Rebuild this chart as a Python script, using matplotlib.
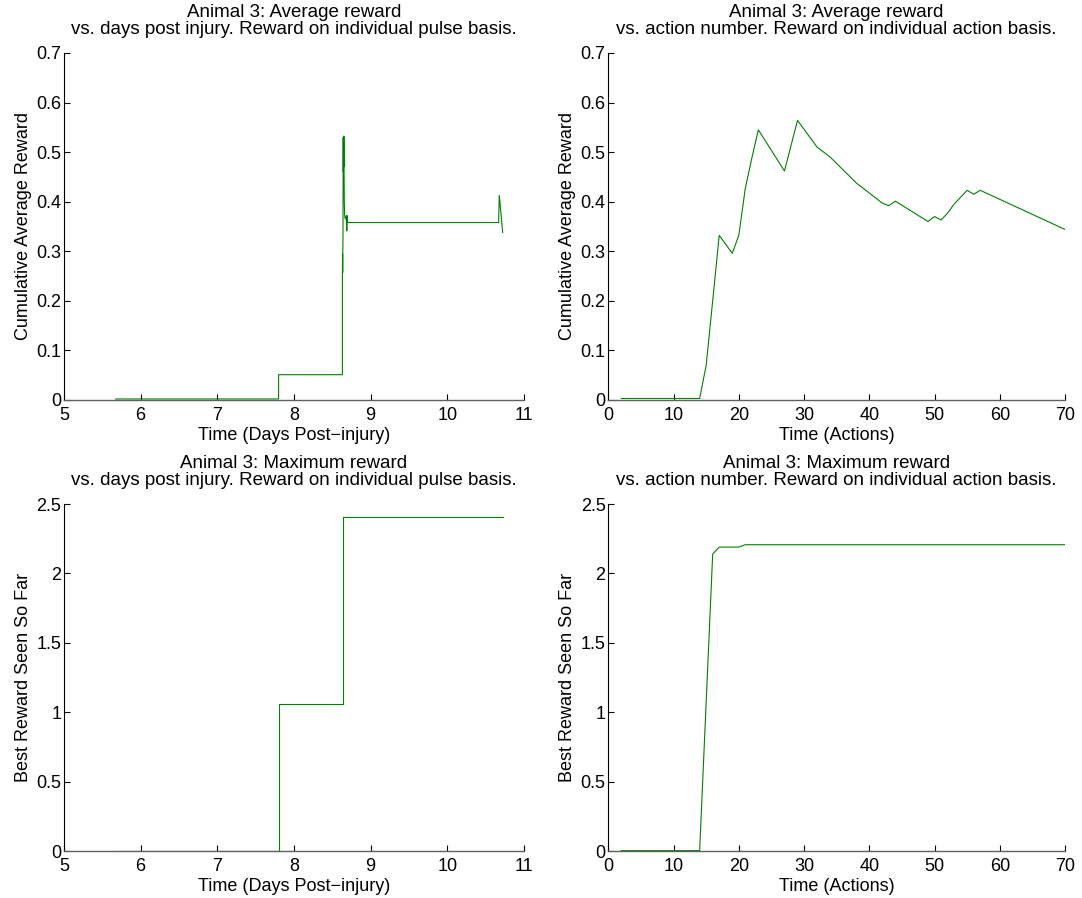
import matplotlib
matplotlib.use("Agg")
import matplotlib.pyplot as plt
import matplotlib.ticker as ticker

# ---------------------------------------------------------------------------
# Data
# ---------------------------------------------------------------------------
# Top-left: cumulative average reward vs days post injury
avg_days = [5.675, 7.80, 7.80, 8.632, 8.632, 8.634, 8.636, 8.638, 8.640,
            8.643, 8.645, 8.647, 8.649, 8.651, 8.654, 8.657, 8.662, 8.670,
            8.685, 8.690, 8.692, 8.700, 10.671, 10.672, 10.679, 10.684, 10.723]
avg_days_reward = [0.002, 0.002, 0.051, 0.051, 0.222, 0.294, 0.257, 0.294,
                   0.330, 0.530, 0.460, 0.532, 0.470, 0.532, 0.460, 0.400,
                   0.372, 0.365, 0.372, 0.341, 0.372, 0.358, 0.358, 0.370,
                   0.412, 0.405, 0.338]

# Top-right: cumulative average reward vs action number
avg_actions = [2, 14, 15, 16, 17, 19, 20, 21, 22, 23, 27, 29, 32, 34, 38,
               42, 43, 44, 49, 50, 51, 52, 53, 55, 56, 57, 70]
avg_actions_reward = [0.003, 0.003, 0.070, 0.200, 0.332, 0.296, 0.332, 0.427,
                      0.488, 0.545, 0.462, 0.564, 0.510, 0.490, 0.438, 0.397,
                      0.392, 0.401, 0.360, 0.370, 0.363, 0.377, 0.395, 0.423,
                      0.415, 0.423, 0.344]

# Bottom-left: best reward seen so far vs days post injury
best_days = [5.675, 7.80, 7.80, 8.634, 8.634, 8.637, 8.637, 10.723]
best_days_reward = [0.003, 0.003, 1.06, 1.06, 2.33, 2.33, 2.41, 2.41]

# Bottom-right: best reward seen so far vs action number
best_actions = [2, 14, 16, 17, 20, 21, 70]
best_actions_reward = [0.003, 0.003, 2.14, 2.19, 2.19, 2.207, 2.207]

TITLE_AVG = "Animal 3: Average reward"
TITLE_MAX = "Animal 3: Maximum reward"
SUB_DAYS = "vs. days post injury. Reward on individual pulse basis."
SUB_ACTIONS = "vs. action number. Reward on individual action basis."
XLABEL_DAYS = "Time (Days Post\u2212injury)"
XLABEL_ACTIONS = "Time (Actions)"
YLABEL_AVG = "Cumulative Average Reward"
YLABEL_MAX = "Best Reward Seen So Far"

# ---------------------------------------------------------------------------
# Style
# ---------------------------------------------------------------------------
plt.rcParams["font.family"] = ["Liberation Sans", "DejaVu Sans"]
_GREEN = "#008000"
_LINE_KW = dict(color=_GREEN, linewidth=0.8)
_FS = 13
_TITLE_FS = 13.5


def _style_ax(ax, xlabel, ylabel, title, xlim, xticks, ylim, yticks):
    ax.set_xlim(xlim)
    ax.set_ylim(ylim)
    ax.set_xticks(xticks)
    ax.set_yticks(yticks)
    ax.xaxis.set_major_formatter(ticker.FuncFormatter(lambda v, _: f"{v:g}"))
    ax.yaxis.set_major_formatter(ticker.FuncFormatter(lambda v, _: f"{v:g}"))
    ax.spines["top"].set_visible(False)
    ax.spines["right"].set_visible(False)
    ax.spines["left"].set_color("black")
    ax.spines["bottom"].set_color("#606060")
    ax.spines["left"].set_linewidth(0.8)
    ax.spines["bottom"].set_linewidth(1.0)
    ax.tick_params(direction="in", length=4, width=0.8, labelsize=_FS,
                   colors="black")
    ax.tick_params(axis="x", pad=5)
    ax.tick_params(axis="y", pad=2)
    ax.set_xlabel(xlabel, fontsize=_FS, labelpad=2)
    ax.set_ylabel(ylabel, fontsize=_FS, labelpad=3)
    ax.set_title(title, fontsize=_TITLE_FS, pad=14, linespacing=1.0)


fig = plt.figure(figsize=(10.82, 8.98), dpi=100)
ax_tl = fig.add_axes([0.0591, 0.5546, 0.4251, 0.3864])
ax_tr = fig.add_axes([0.5622, 0.5546, 0.4221, 0.3864])
ax_bl = fig.add_axes([0.0591, 0.0523, 0.4251, 0.3864])
ax_br = fig.add_axes([0.5622, 0.0523, 0.4221, 0.3864])

ax_tl.plot(avg_days, avg_days_reward, **_LINE_KW)
_style_ax(ax_tl, XLABEL_DAYS, YLABEL_AVG, TITLE_AVG + "\n" + SUB_DAYS,
          (5, 11), range(5, 12), (0, 0.7), [i / 10 for i in range(8)])

ax_tr.plot(avg_actions, avg_actions_reward, **_LINE_KW)
_style_ax(ax_tr, XLABEL_ACTIONS, YLABEL_AVG, TITLE_AVG + "\n" + SUB_ACTIONS,
          (0, 70), range(0, 71, 10), (0, 0.7), [i / 10 for i in range(8)])

ax_bl.plot(best_days, best_days_reward, **_LINE_KW)
_style_ax(ax_bl, XLABEL_DAYS, YLABEL_MAX, TITLE_MAX + "\n" + SUB_DAYS,
          (5, 11), range(5, 12), (0, 2.5), [i / 2 for i in range(6)])

ax_br.plot(best_actions, best_actions_reward, **_LINE_KW)
_style_ax(ax_br, XLABEL_ACTIONS, YLABEL_MAX, TITLE_MAX + "\n" + SUB_ACTIONS,
          (0, 70), range(0, 71, 10), (0, 2.5), [i / 2 for i in range(6)])

fig.savefig("out.png", dpi=100)
plt.close(fig)
